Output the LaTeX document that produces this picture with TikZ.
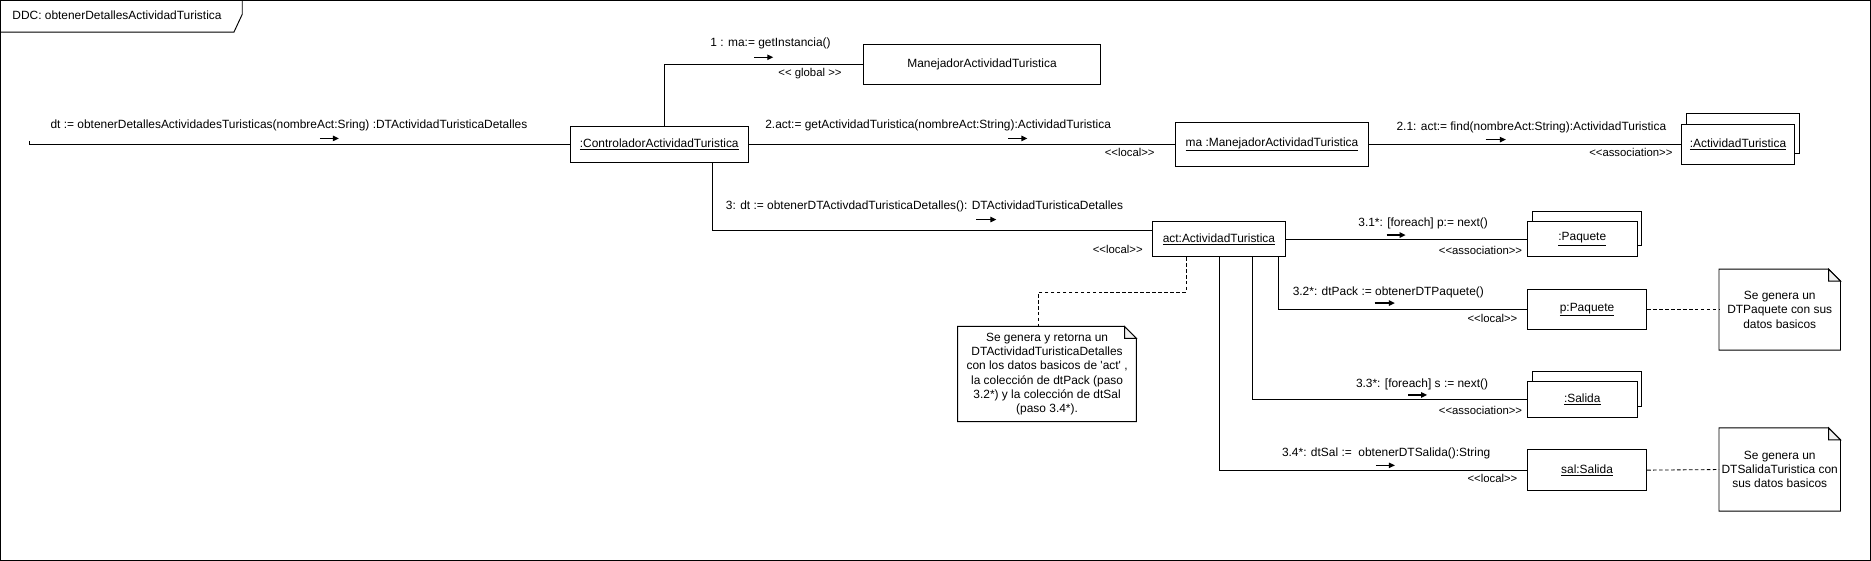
\documentclass[tikz,border=0pt]{standalone}
\usepackage{fontspec}
\setmainfont{Liberation Sans}[Ligatures=TeXOff]
\usetikzlibrary{calc,arrows.meta}
\begin{document}
\begin{tikzpicture}[x=1pt,y=-1pt,font=\fontsize{10}{12}\selectfont,line width=0.8pt,
  box/.style={draw,fill=white,inner sep=0pt,align=center},
  lbl/.style={inner sep=0pt,anchor=west},
  ster/.style={inner sep=0pt,anchor=east,font=\fontsize{9.5}{11}\selectfont},
  msg/.style={-{Triangle[length=5pt,width=4.5pt]},line width=1pt},
  dsh/.style={dash pattern=on 3pt off 2pt,line width=0.7pt},
  notenode/.style={inner sep=0pt,align=center}]
\useasboundingbox (0,0) rectangle (1568,470);
% frame
\draw (0.5,0.5) rectangle (1567.5,469.5);
\draw (0.5,27) -- (196,27) -- (203,12) -- (203,0.5);
\node[lbl] (title) at (10,13) {DDC: obtenerDetallesActividadTuristica};

% objects
\node[box,minimum width=149,minimum height=30] (ctrl) at (552.5,121) {\underline{:ControladorActividadTuristica}};
\node[box,minimum width=198,minimum height=34] (mgr) at (823,54) {ManejadorActividadTuristica};
\node[box,minimum width=162,minimum height=37] (ma) at (1066,121) {\underline{ma :ManejadorActividadTuristica}};
\draw[fill=white] (1413,95) rectangle (1508,129);
\node[box,minimum width=95,minimum height=34] (actT) at (1456.5,121) {\underline{:ActividadTuristica}};
\node[box,minimum width=111,minimum height=29] (act) at (1021.5,200.5) {\underline{act:ActividadTuristica}};
\draw[fill=white] (1284,177) rectangle (1376,206);
\node[box,minimum width=92,minimum height=29] (paq) at (1326,200.5) {\underline{:Paquete}};
\node[box,minimum width=100,minimum height=33] (pP) at (1330,259.5) {\underline{p:Paquete}};
\draw[fill=white] (1284,311) rectangle (1376,341);
\node[box,minimum width=92,minimum height=30] (sal) at (1326,335) {\underline{:Salida}};
\node[box,minimum width=100,minimum height=34] (salS) at (1330,394) {\underline{sal:Salida}};

% notes
\node[notenode,minimum width=149,minimum height=79] (n3) at (877.5,313.5) {Se genera y retorna un\\DTActividadTuristicaDetalles\\con los datos basicos de 'act' ,\\la colección de dtPack (paso\\3.2*) y la colección de dtSal\\(paso 3.4*).};
\node[notenode,minimum width=101,minimum height=67] (n1) at (1491.5,259.5) {Se genera un\\DTPaquete con sus\\datos basicos};
\node[notenode,minimum width=101,minimum height=69] (n2) at (1491.5,393.5) {Se genera un\\DTSalidaTuristica con\\sus datos basicos};
\foreach \n in {n1,n2,n3}{
  \draw (\n.north west) -- ([xshift=-10pt]\n.north east) -- ([yshift=-10pt]\n.north east) -- (\n.south east) -- (\n.south west) -- cycle;
  \draw[fill=gray!12] ([xshift=-10pt]\n.north east) -- ([xshift=-10pt,yshift=-10pt]\n.north east) -- ([yshift=-10pt]\n.north east) -- cycle;
}

% connectors
\coordinate (s0) at (25,118);
\coordinate (s1) at (25,121);
\draw (s0) -- (s1) -- (ctrl.west);
\draw ([xshift=4.5pt]ctrl.north) |- (mgr.west);
\draw (ctrl.east) -- (ma.west);
\draw (ma.east) -- (actT.west);
\draw ([xshift=44.5pt]ctrl.south) |- ([yshift=7pt]act.west);
\draw (act.east) -- (paq.west);
\draw ([xshift=49.5pt]act.south) |- (pP.west);
\draw ([xshift=28.5pt]act.south) |- (sal.west);
\draw ([xshift=0.5pt]act.south) |- (salS.west);
\coordinate (d1) at (870,245);
\draw[dsh] ([xshift=-27.5pt]act.south) |- (d1) -- (n3.north -| d1);
\draw[dsh] (pP.east) -- (n1.west);
\draw[dsh] (salS.east) -- (n2.west);

% labels
\node[lbl] (l0) at (42,105) {dt := obtenerDetallesActividadesTuristicas(nombreAct:Sring) :DTActividadTuristicaDetalles};
\draw[msg] (268,116) -- (284,116);
\node[lbl] (l1) at (595,36) {1 : ma:= getInstancia()};
\draw[msg] (632,48) -- (648,48);
\node[lbl,font=\fontsize{9.5}{11}\selectfont] (g1) at (652,62) {<< global >>};
\node[lbl] (l2) at (641,105) {2.act:= getActividadTuristica(nombreAct:String):ActividadTuristica};
\draw[msg] (845,116) -- (861,116);
\node[ster] (s2) at (968,128) {<<local>>};
\node[lbl] (l21) at (1170,107) {2.1: act:= find(nombreAct:String):ActividadTuristica};
\draw[msg] (1245,117) -- (1262,117);
\node[ster] (s21) at (1402,128) {<<association>>};
\node[lbl] (l3) at (608,173) {3: dt := obtenerDTActivdadTuristicaDetalles(): DTActividadTuristicaDetalles};
\draw[msg] (818,184) -- (835,184);
\node[ster] (s3) at (958,209) {<<local>>};
\node[lbl] (l31) at (1138,187) {3.1*: [foreach] p:= next()};
\draw[msg] (1162,197) -- (1178,197);
\node[ster] (s31) at (1276,210) {<<association>>};
\node[lbl] (l32) at (1083,245) {3.2*: dtPack := obtenerDTPaquete()};
\draw[msg] (1152,254) -- (1169,254);
\node[ster] (s32) at (1272,267) {<<local>>};
\node[lbl] (l33) at (1136,322) {3.3*: [foreach] s := next()};
\draw[msg] (1180,331) -- (1196,331);
\node[ster] (s33) at (1276,344) {<<association>>};
\node[lbl] (l34) at (1074,380) {3.4*: dtSal :=\ \ obtenerDTSalida():String};
\draw[msg] (1153,390) -- (1169,390);
\node[ster] (s34) at (1272,401) {<<local>>};
\end{tikzpicture}
\end{document}
